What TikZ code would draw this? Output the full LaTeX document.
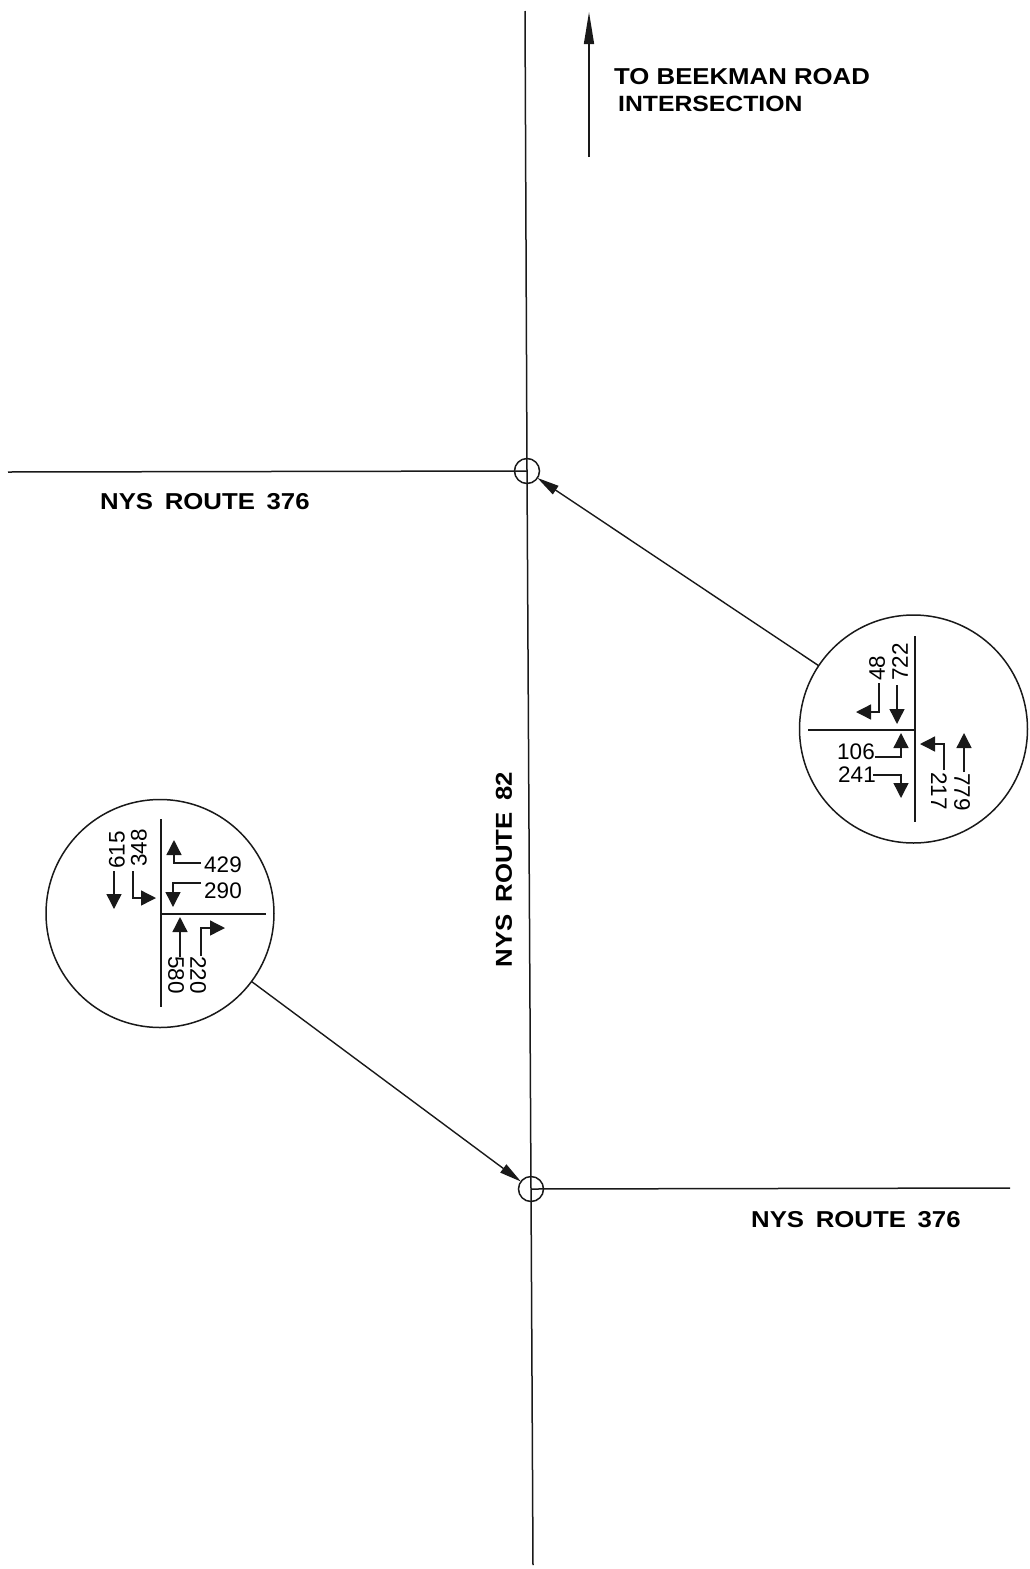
\documentclass[tikz,border=0pt]{standalone}
\usepackage{fontspec}
\usetikzlibrary{arrows.meta}
\setmainfont{Liberation Sans}
\newfontfamily\labfont[FakeStretch=1.12]{Liberation Sans}
\newcommand{\wgap}{\hspace{4.5pt}}
\tikzset{
  x=1pt,y=-1pt,
  road/.style={line width=1.5pt,black!90},
  thin line/.style={line width=1.8pt,black!90},
  flow/.style={line width=1.4pt,black!90,-{Triangle[length=15pt,width=15pt]}},
  longarrow/.style={line width=1.5pt,black!90,-{Triangle[length=32pt,width=10pt]}},
  bigcircle/.style={circle,draw=black!90,line width=1.5pt,minimum size=228pt,inner sep=0pt,outer sep=0pt},
  smallcircle/.style={circle,draw=black!90,line width=1.5pt,minimum size=25pt,inner sep=0pt,outer sep=0pt},
  lab/.style={font=\labfont\bfseries\fontsize{23}{26}\selectfont,inner sep=0pt,text=black},
  num/.style={font=\fontsize{22.5}{24}\selectfont,inner sep=0pt,text=black},
  up/.style={num,rotate=90},
  dn/.style={num,rotate=-90},
  pointer/.style={line width=1.4pt,black!90,-{Triangle[length=22pt,width=10pt]}}
}
\begin{document}
\begin{tikzpicture}
\useasboundingbox (0,0) rectangle (1029,1569);
% junctions
\node[smallcircle] (jn) at (527,471) {};
\node[smallcircle] (js) at (531,1189) {};
\node[bigcircle] (ce) at (913.5,729) {};
\node[bigcircle] (cw) at (160,913.5) {};
% road ends
\coordinate (rn) at (525,11);
\coordinate (rs) at (533,1565);
\coordinate (rw) at (8,472);
\coordinate (re) at (1010,1188);
\draw[road] (rn) -- (jn.center) -- (js.center) -- (rs);
\draw[road] (rw) -- (jn.center);
\draw[road] (js.center) -- (re);
\draw[pointer] (ce) -- (jn);
\draw[pointer] (cw) -- (js);
% north arrow
\coordinate (na) at (589,157);
\coordinate (nb) at (589,12);
\draw[longarrow] (na) -- (nb);
% labels
\node[lab,anchor=west] (l1) at (614,77) {TO BEEKMAN ROAD};
\node[lab,anchor=west,font=\labfont\bfseries\fontsize{22.1}{26}\selectfont] (l2) at (618,104) {INTERSECTION};
\node[lab,anchor=west] (l3) at (100,502) {NYS\wgap{} ROUTE\wgap{} 376};
\node[lab,anchor=west] (l4) at (751,1220) {NYS\wgap{} ROUTE\wgap{} 376};
\node[lab,rotate=90] (l5) at (504,869.5) {NYS\wgap{} ROUTE\wgap{} 82};
% east inset
\coordinate (e1) at (915,636); \coordinate (e2) at (915,822);
\coordinate (e3) at (808,730); \coordinate (e4) at (915,730);
\draw[thin line] (e1) -- (e2);
\draw[thin line] (e3) -- (e4);
\node[up] (n48) at (877,668) {48};
\node[up] (n722) at (900,662) {722};
\node[num] (n106) at (856,752) {106};
\node[num] (n241) at (857,775) {241};
\node[dn] (n217) at (939,791) {217};
\node[dn] (n779) at (962,792) {779};
\coordinate (a1) at (879,683); \coordinate (a2) at (879,712); \coordinate (a3) at (856,712);
\draw[flow] (a1) -- (a2) -- (a3);
\coordinate (b1) at (897,685); \coordinate (b2) at (897,724);
\draw[flow] (b1) -- (b2);
\coordinate (c1) at (875,757); \coordinate (c2) at (901,757); \coordinate (c3) at (901,733);
\draw[flow] (c1) -- (c2) -- (c3);
\coordinate (d1) at (873,775); \coordinate (d2) at (901,775); \coordinate (d3) at (901,798);
\draw[flow] (d1) -- (d2) -- (d3);
\coordinate (f1) at (944,770); \coordinate (f2) at (944,744); \coordinate (f3) at (920,744);
\draw[flow] (f1) -- (f2) -- (f3);
\coordinate (g1) at (964,772); \coordinate (g2) at (964,733);
\draw[flow] (g1) -- (g2);
% west inset
\coordinate (w1) at (161,819); \coordinate (w2) at (161,1007);
\coordinate (w3) at (161,914); \coordinate (w4) at (266,914);
\draw[thin line] (w1) -- (w2);
\draw[thin line] (w3) -- (w4);
\node[up] (n615) at (117,850) {615};
\node[up] (n348) at (139,848) {348};
\node[num] (n429) at (223,865) {429};
\node[num] (n290) at (223,891) {290};
\node[dn] (n580) at (176,975) {580};
\node[dn] (n220) at (198,975) {220};
\coordinate (h1) at (114,871); \coordinate (h2) at (114,909);
\draw[flow] (h1) -- (h2);
\coordinate (i1) at (133,871); \coordinate (i2) at (133,898); \coordinate (i3) at (156,898);
\draw[flow] (i1) -- (i2) -- (i3);
\coordinate (j1) at (201,863); \coordinate (j2) at (174,863); \coordinate (j3) at (174,840);
\draw[flow] (j1) -- (j2) -- (j3);
\coordinate (k1) at (201,883); \coordinate (k2) at (173,883); \coordinate (k3) at (173,907);
\draw[flow] (k1) -- (k2) -- (k3);
\coordinate (m1) at (180,957); \coordinate (m2) at (180,917);
\draw[flow] (m1) -- (m2);
\coordinate (o1) at (201,956); \coordinate (o2) at (201,928); \coordinate (o3) at (225,928);
\draw[flow] (o1) -- (o2) -- (o3);
\end{tikzpicture}
\end{document}
